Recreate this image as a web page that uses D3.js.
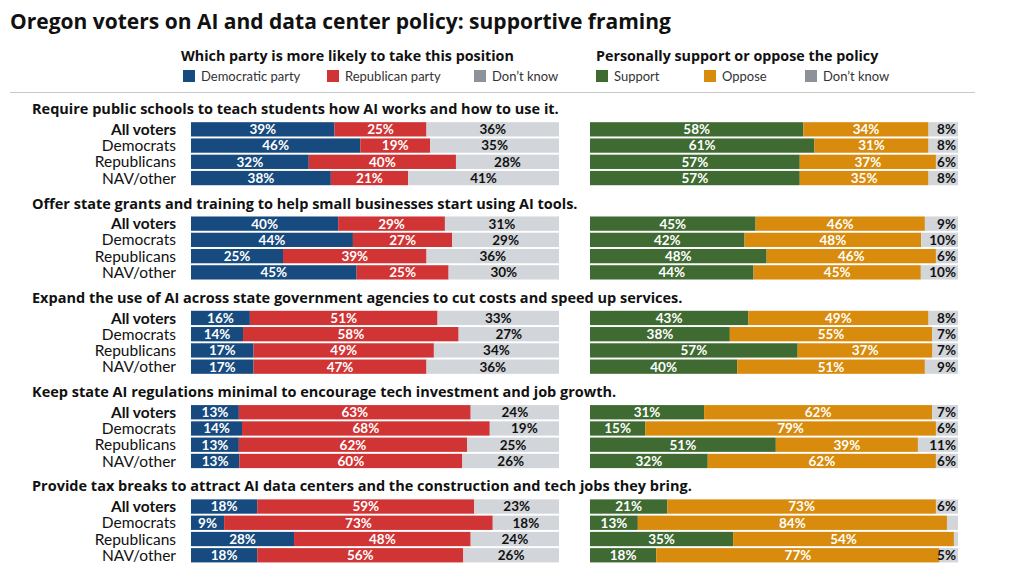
<!DOCTYPE html>
<html>
<head>
<meta charset="utf-8">
<script src="https://cdn.jsdelivr.net/npm/d3@7"></script>
<style>
  body { margin: 0; background: #fff; }
  svg { font-family: Lato, "Open Sans", sans-serif; }
  .head { font-family: "Open Sans", Lato, sans-serif; font-weight: 700; }
</style>
</head>
<body>
<svg id="chart" width="1024" height="576"></svg>
<script>
// questions and voter groups
const questions = [
    "Require public schools to teach students how AI works and how to use it.",
    "Offer state grants and training to help small businesses start using AI tools.",
    "Expand the use of AI across state government agencies to cut costs and speed up services.",
    "Keep state AI regulations minimal to encourage tech investment and job growth.",
    "Provide tax breaks to attract AI data centers and the construction and tech jobs they bring."
];
const groups = ["All voters", "Democrats", "Republicans", "NAV/other"];

// which party is more likely to take this position: [Democratic, Republican, Don't know]
const partyValues = [
    [[39, 25, 36], [46, 19, 35], [32, 40, 28], [38, 21, 41]],
    [[40, 29, 31], [44, 27, 29], [25, 39, 36], [45, 25, 30]],
    [[16, 51, 33], [14, 58, 27], [17, 49, 34], [17, 47, 36]],
    [[13, 63, 24], [14, 68, 19], [13, 62, 25], [13, 60, 26]],
    [[18, 59, 23], [9, 73, 18], [28, 48, 24], [18, 56, 26]]
];

// personally support or oppose: [Support, Oppose, Don't know]
const supportValues = [
    [[58, 34, 8], [61, 31, 8], [57, 37, 6], [57, 35, 8]],
    [[45, 46, 9], [42, 48, 10], [48, 46, 6], [44, 45, 10]],
    [[43, 49, 8], [38, 55, 7], [57, 37, 7], [40, 51, 9]],
    [[31, 62, 7], [15, 79, 6], [51, 39, 11], [32, 62, 6]],
    [[21, 73, 6], [13, 84, 3], [35, 54, 1], [18, 77, 5]]
];

const partyKeys = ["Democratic party", "Republican party", "Don\u2019t know"];
const supportKeys = ["Support", "Oppose", "Don\u2019t know"];
const partyColors = ["#174a7e", "#d03434", "#d2d5da"];
const supportColors = ["#3f6b32", "#d88b0c", "#d2d5da"];
const legendGray = "#8d929a";

const svg = d3.select("#chart");

//title
svg.append("text")
    .attr("class", "head")
    .attr("x", 10)
    .attr("y", 29)
    .style("font-size", "21px")
    .attr("fill", "#111")
    .text("Oregon voters on AI and data center policy: supportive framing");

//legends
function legend(x, header, keys, colors, itemX) {
    const g = svg.append("g");
    g.append("text")
        .attr("class", "head")
        .attr("x", x)
        .attr("y", 61)
        .style("font-size", "14.3px")
        .attr("fill", "#111")
        .text(header);
    keys.forEach((k, i) => {
        g.append("rect")
            .attr("x", itemX[i])
            .attr("y", 70)
            .attr("width", 12)
            .attr("height", 12)
            .attr("fill", i === 2 ? legendGray : colors[i]);
        g.append("text")
            .attr("x", itemX[i] + 18)
            .attr("y", 80.5)
            .style("font-size", "13px")
            .attr("fill", "#333")
            .text(k);
    });
}
legend(181, "Which party is more likely to take this position", partyKeys, partyColors, [183, 327, 474]);
legend(596, "Personally support or oppose the policy", supportKeys, supportColors, [596, 704, 805]);

svg.append("line")
    .attr("x1", 10).attr("x2", 975)
    .attr("y1", 92.5).attr("y2", 92.5)
    .attr("stroke", "#c9c9c9");

//scales
const blockY = d3.scaleLinear().domain([0, 1]).range([121.7, 216]);
const rowY = d3.scaleBand().domain(groups).range([0, 64]).paddingInner(0.12).paddingOuter(0.03);
const xLeft = d3.scaleLinear().domain([0, 1]).range([191, 559]);
const xRight = d3.scaleLinear().domain([0, 1]).range([590, 958]);

//stack each row to 100%
function stackRows(rows) {
    const table = rows.map((r, i) => ({group: groups[i], a: r[0], b: r[1], c: r[2]}));
    return d3.stack().keys(["a", "b", "c"]).offset(d3.stackOffsetExpand)(table);
}

function drawPanel(g, rows, x, colors, dkAtEnd) {
    const series = stackRows(rows);
    series.forEach((s, si) => {
        g.append("g")
            .attr("fill", colors[si])
            .selectAll("rect")
            .data(s)
            .join("rect")
                .attr("x", d => x(d[0]))
                .attr("y", d => rowY(d.data.group))
                .attr("width", d => x(d[1]) - x(d[0]))
                .attr("height", rowY.bandwidth());

        g.append("g")
            .style("font-size", "13.5px")
            .style("font-weight", 700)
            .attr("fill", si === 2 ? "#111" : "#fff")
            .attr("text-anchor", (si === 2 && dkAtEnd) ? "end" : "middle")
            .selectAll("text")
            .data(s.filter(d => d.data[s.key] >= 5))
            .join("text")
                .attr("x", d => (si === 2 && dkAtEnd) ? x(1) - 2 : x((d[0] + d[1]) / 2))
                .attr("y", d => rowY(d.data.group) + rowY.bandwidth() / 2)
                .attr("dy", "0.36em")
                .text(d => d.data[s.key] + "%");
    });
}

questions.forEach((q, qi) => {
    const g = svg.append("g")
        .attr("transform", `translate(0,${blockY(qi)})`);

    g.append("text")
        .attr("class", "head")
        .attr("x", 32)
        .attr("y", -7.5)
        .style("font-size", "14.5px")
        .attr("fill", "#111")
        .text(q);

    //row labels
    g.append("g")
        .attr("text-anchor", "end")
        .style("font-size", "15.5px")
        .attr("fill", "#111")
        .selectAll("text")
        .data(groups)
        .join("text")
            .attr("x", 176)
            .attr("y", d => rowY(d) + rowY.bandwidth() / 2)
            .attr("dy", "0.36em")
            .style("font-weight", (d, i) => i === 0 ? 700 : 400)
            .text(d => d);

    drawPanel(g, partyValues[qi], xLeft, partyColors, false);
    drawPanel(g, supportValues[qi], xRight, supportColors, true);
});
</script>
</body>
</html>
